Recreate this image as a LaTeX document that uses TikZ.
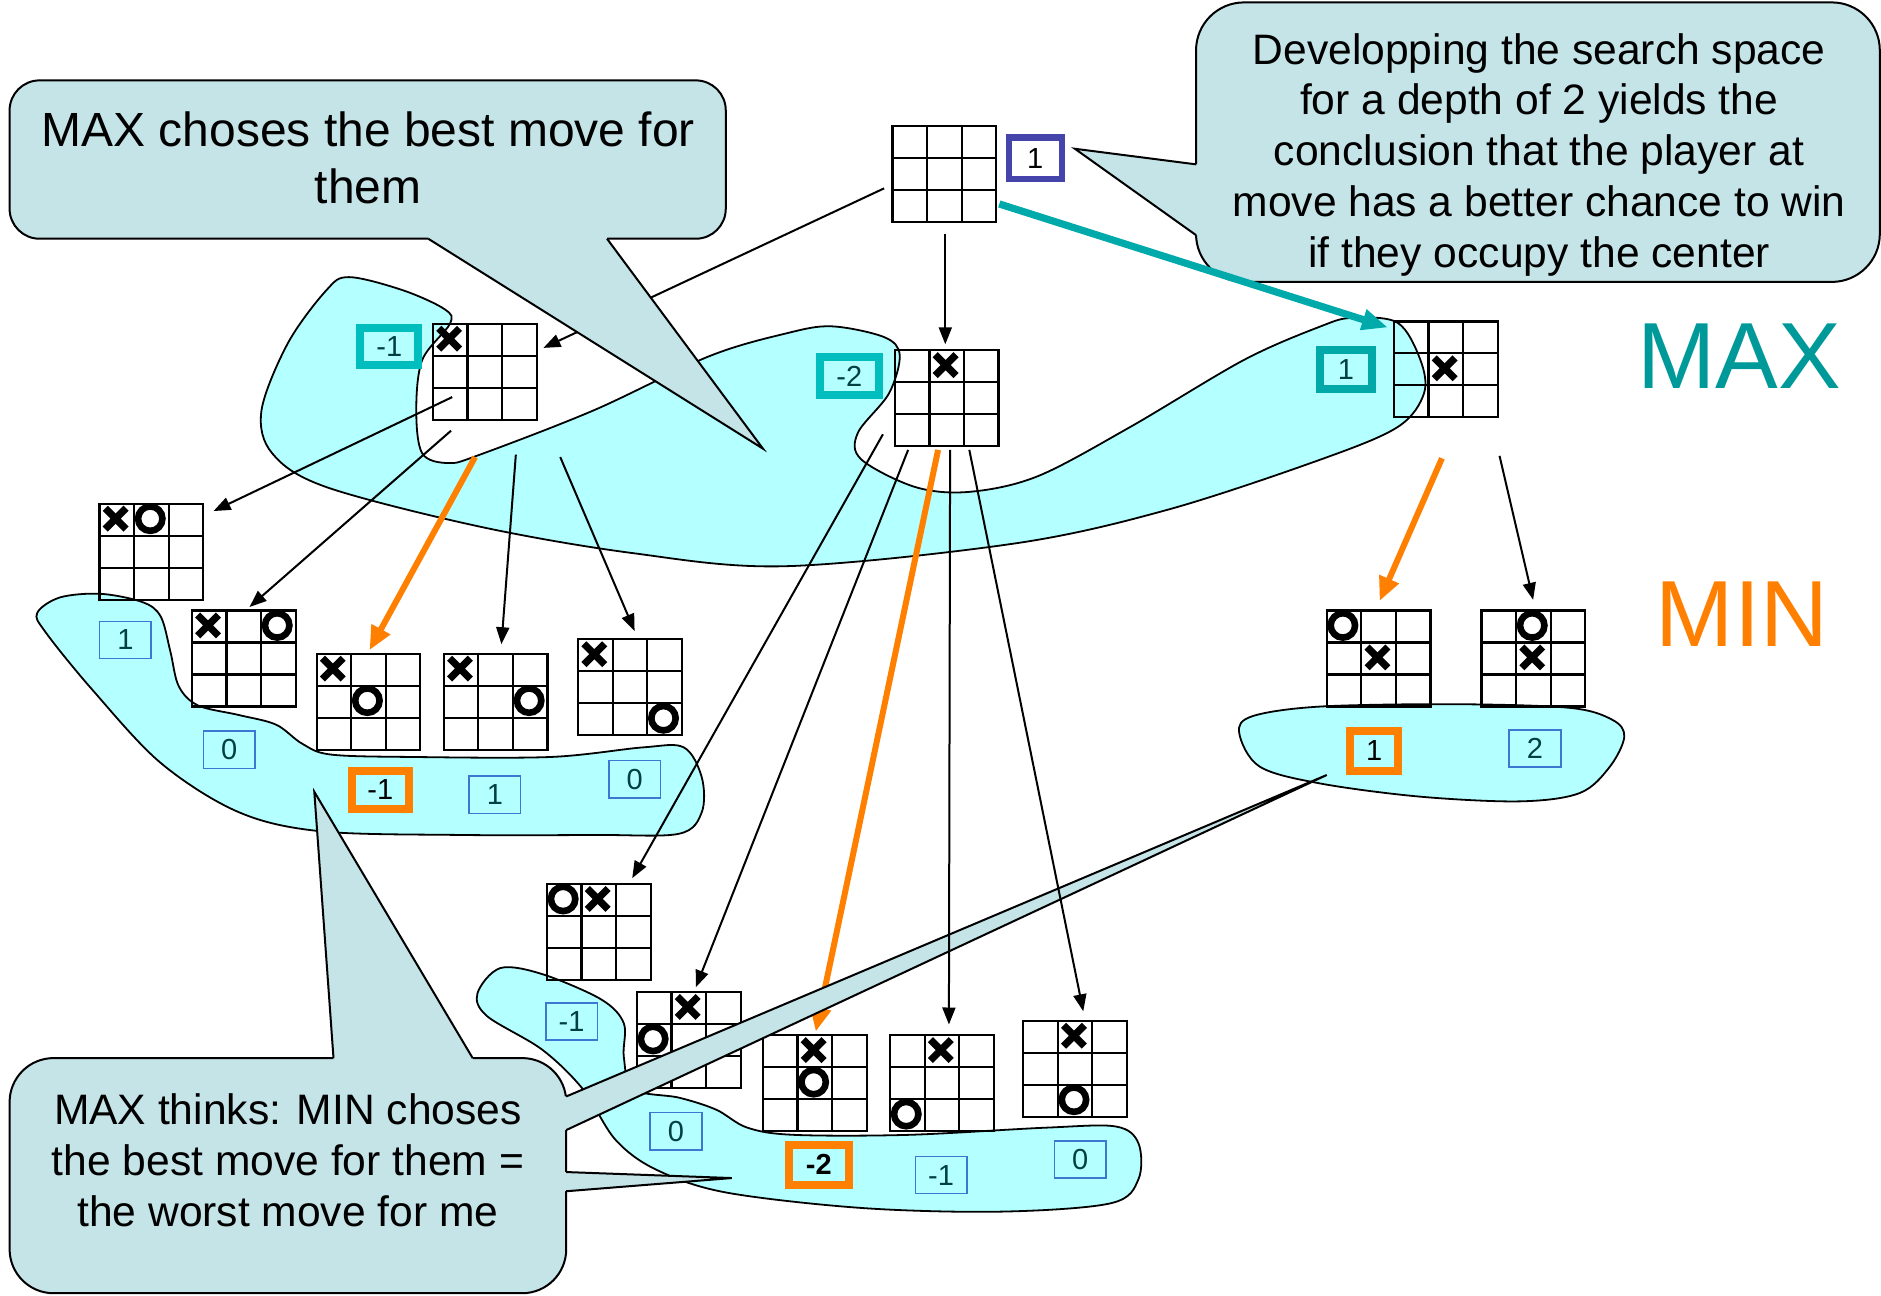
\documentclass[tikz,border=0pt]{standalone}
\usepackage{fontspec}
\setmainfont{Liberation Sans}
\usetikzlibrary{arrows.meta,calc}
\definecolor{blobc}{RGB}{180,255,255}
\definecolor{callc}{RGB}{197,228,232}
\definecolor{tealbox}{RGB}{0,190,190}
\definecolor{tealdark}{RGB}{0,168,168}
\definecolor{tealarrow}{RGB}{0,170,170}
\definecolor{maxc}{RGB}{0,153,153}
\definecolor{orng}{RGB}{255,128,0}
\definecolor{rootc}{RGB}{68,68,170}
\definecolor{thinb}{RGB}{60,120,210}
\definecolor{valtxt}{RGB}{0,64,64}
\newcommand{\myvalfont}{\fontsize{14.5}{16}\selectfont}
\newcommand{\myfA}{\fontsize{24}{28.2}\selectfont}
\newcommand{\myfB}{\fontsize{21.3}{25.4}\selectfont}
\newcommand{\myfBig}{\fontsize{47}{50}\selectfont}
\newcommand{\markX}[3]{\draw[xstroke] ($(#1.north west)+({(#3+0.5)*28.83},{(#2+0.5)*26.67})$) +(-5.2pt,-5.2pt) -- +(5.2pt,5.2pt) +(-5.2pt,5.2pt) -- +(5.2pt,-5.2pt);}
\newcommand{\markO}[3]{\draw[ostroke] ($(#1.north west)+({(#3+0.5)*28.83},{(#2+0.5)*26.67})$) circle[radius=6.1pt];}
\begin{document}
\begin{tikzpicture}[x=0.6pt,y=-0.6pt,
  blob/.style={fill=blobc, draw=black, line width=0.9pt},
  board/.style={draw, line width=1.1pt, anchor=north west, minimum width=51.9pt, minimum height=48pt, inner sep=0pt,
    path picture={
      \foreach \f in {0.3333,0.6667}{
        \draw[line width=1.1pt] ($(path picture bounding box.north west)!\f!(path picture bounding box.north east)$) -- ($(path picture bounding box.south west)!\f!(path picture bounding box.south east)$);
        \draw[line width=1.1pt] ($(path picture bounding box.north west)!\f!(path picture bounding box.south west)$) -- ($(path picture bounding box.north east)!\f!(path picture bounding box.south east)$);
      }}},
  xstroke/.style={line width=3.6pt},
  ostroke/.style={line width=3.3pt},
  thinval/.style={draw=thinb, line width=0.8pt, minimum width=25.8pt, minimum height=18.6pt, inner sep=0pt, text=valtxt, font=\myvalfont},
  bigval/.style={line width=4pt, inner sep=0pt, font=\myvalfont},
  callout/.style={fill=callc, draw=black, line width=1pt, inner sep=0pt},
  callfill/.style={fill=callc},
  callline/.style={draw=black, line width=1pt, line join=miter},
  arr/.style={draw=black, line width=1pt, -{Triangle[length=8.5pt,width=6.5pt]}},
  oarr/.style={draw=orng, line width=3pt, -{Triangle[length=12pt,width=10pt]}},
  tarr/.style={draw=tealarrow, line width=3.6pt, -{Triangle[length=13pt,width=10pt]}},
  calltext/.style={align=center, inner sep=0pt},
]
\useasboundingbox (0,0) rectangle (1568,1080);

% ---------- blobs ----------
\draw[blob] plot[smooth cycle, tension=0.55] coordinates {(291,231) (336,242) (371,258) (375,270) (352,300) (347,342) (352,378) (374,386) (400,379) (495,342) (591,297) (655,278) (693,272) (737,281) (750,296) (741,328) (715,361) (718,383) (763,406) (808,410) (865,397) (942,356) (1037,300) (1101,272) (1127,265) (1165,269) (1184,300) (1187,328) (1165,356) (1101,383) (973,425) (846,453) (654,472) (527,461) (400,439) (272,406) (227,378) (218,342) (240,286) (272,242)};
\draw[blob] plot[smooth cycle, tension=0.55] coordinates {(31,511) (50,498) (84,495) (119,502) (134,514) (142,543) (149,572) (165,588) (199,596) (230,604) (252,620) (276,629) (344,631) (459,631) (536,623) (570,623) (585,648) (585,677) (566,695) (497,696) (383,696) (268,693) (199,677) (134,636) (77,575) (38,527)};
\draw[blob] plot[smooth cycle, tension=0.55] coordinates {(398,828) (417,807) (452,812) (501,833) (520,853) (520,881) (528,908) (566,915) (597,925) (623,940) (662,946) (757,946) (872,940) (930,939) (949,953) (949,983) (926,1003) (834,1010) (719,1007) (605,994) (547,975) (513,950) (486,908) (452,875) (406,847)};
\draw[blob] plot[smooth cycle, tension=0.55] coordinates {(1033,611) (1044,597) (1100,589) (1211,587) (1308,590) (1344,600) (1354,614) (1342,639) (1317,661) (1267,668) (1183,664) (1100,653) (1050,639)};

% ---------- boards ----------
\node[board] (root) at (743,104) {};
\node[board] (mx1) at (360,269) {};
\node[board] (mx2) at (745,291) {};
\node[board] (mx3) at (1161,267) {};
\node[board] (la) at (82,419) {};
\node[board] (lb) at (159,508) {};
\node[board] (lc) at (263,544) {};
\node[board] (ld) at (369,544) {};
\node[board] (le) at (481,532) {};
\node[board] (ca) at (455,736) {};
\node[board] (cb) at (530,826) {};
\node[board] (cc) at (635,862) {};
\node[board] (cd) at (741,862) {};
\node[board] (ce) at (852,850) {};
\node[board] (ra) at (1105,508) {};
\node[board] (rb) at (1234,508) {};

\markX{mx1}{0}{0}
\markX{mx2}{0}{1}
\markX{mx3}{1}{1}
\markX{la}{0}{0}\markO{la}{0}{1}
\markX{lb}{0}{0}\markO{lb}{0}{2}
\markX{lc}{0}{0}\markO{lc}{1}{1}
\markX{ld}{0}{0}\markO{ld}{1}{2}
\markX{le}{0}{0}\markO{le}{2}{2}
\markO{ca}{0}{0}\markX{ca}{0}{1}
\markX{cb}{0}{1}\markO{cb}{1}{0}
\markX{cc}{0}{1}\markO{cc}{1}{1}
\markX{cd}{0}{1}\markO{cd}{2}{0}
\markX{ce}{0}{1}\markO{ce}{2}{1}
\markO{ra}{0}{0}\markX{ra}{1}{1}
\markO{rb}{0}{1}\markX{rb}{1}{1}

% ---------- values ----------
\node[bigval, draw=rootc, line width=3.2pt, minimum width=26.5pt, minimum height=20.8pt] (vroot) at (863,132) {1};
\node[bigval, draw=tealbox, text=valtxt, minimum width=29pt, minimum height=18.8pt] (vmx1) at (324.5,289) {-1};
\node[bigval, draw=tealbox, text=valtxt, minimum width=29.6pt, minimum height=19.4pt] (vmx2) at (708,313.5) {-2};
\node[bigval, draw=tealdark, text=valtxt, minimum width=26pt, minimum height=20pt] (vmx3) at (1122,308) {1};

\node[thinval] (vla) at (104.5,533.5) {1};
\node[thinval] (vlb) at (191,625) {0};
\node[bigval, draw=orng, minimum width=28.4pt, minimum height=19.4pt] (vlc) at (317,658.5) {-1};
\node[thinval] (vld) at (412.5,662.5) {1};
\node[thinval] (vle) at (529,649.5) {0};

\node[thinval] (vca) at (476.5,851.5) {-1};
\node[thinval] (vcb) at (563.5,943) {0};
\node[bigval, draw=orng, minimum width=30.2pt, minimum height=20pt, font=\myvalfont\bfseries] (vcc) at (682.5,971) {-2};
\node[thinval] (vcd) at (784.5,979.5) {-1};
\node[thinval] (vce) at (900.5,966.5) {0};

\node[bigval, draw=orng, minimum width=24.2pt, minimum height=20pt] (vra) at (1145.5,626) {1};
\node[thinval] (vrb) at (1279.5,624) {2};

% ---------- connector end points ----------
\coordinate (s0a) at (737,157);  \coordinate (e0a) at (453,290);
\coordinate (s0b) at (788,195);  \coordinate (e0b) at (788,287);
\coordinate (s0c) at (833,170);  \coordinate (e0c) at (1157,273);
\coordinate (s1a) at (377,331);  \coordinate (e1a) at (178,426);
\coordinate (s1b) at (376,359);  \coordinate (e1b) at (208,506);
\coordinate (s1c) at (396,381);  \coordinate (e1c) at (308,542);
\coordinate (s1d) at (430,379);  \coordinate (e1d) at (418,537);
\coordinate (s1e) at (467,381);  \coordinate (e1e) at (529,526);
\coordinate (s2a) at (736,362);  \coordinate (e2a) at (527,732);
\coordinate (s2b) at (757,375);  \coordinate (e2b) at (580,823);
\coordinate (s2c) at (782,375);  \coordinate (e2c) at (680,860);
\coordinate (s2d) at (792,375);  \coordinate (e2d) at (791,854);
\coordinate (s2e) at (808,375);  \coordinate (e2e) at (903,843);
\coordinate (s3a) at (1202,382); \coordinate (e3a) at (1150,501);
\coordinate (s3b) at (1250,380); \coordinate (e3b) at (1278,500);

% arrows below the callouts
\draw[arr] (s0a) -- (e0a);
\draw[oarr] (s1c) -- (e1c);
\draw[oarr] (s2c) -- (e2c);
\draw[oarr] (s3a) -- (e3a);

% ---------- callouts ----------
% top-left
\node[callout, rounded corners=15pt, minimum width=358.2pt, minimum height=79.2pt] (c1) at (306.5,133) {};
\fill[callfill] (357,195) -- (357,199) -- (636,374) -- (506,199) -- (506,195) -- cycle;
\draw[callline] (357,199) -- (636,374) -- (506,199);
\node[calltext, font=\myfA] (t1) at (307,131.5) {MAX choses the best move for\\them};

% top-right
\node[callout, rounded corners=24pt, minimum width=342pt, minimum height=139.8pt] (c2) at (1282,118.5) {};
\fill[callfill] (1001,137) -- (997,137) -- (896,124) -- (997,196) -- (1001,196) -- cycle;
\draw[callline] (997,137) -- (896,124) -- (997,196);
\node[calltext, font=\myfB] (t2) at (1283,129) {Developping the search space\\for a depth of 2 yields the\\conclusion that the player at\\move has a better chance to win\\if they occupy the center};

% bottom-left
\node[callout, rounded corners=22pt, minimum width=278.4pt, minimum height=117.6pt] (c3) at (240,980) {};
\fill[callfill] (278,886) -- (278,882) -- (262,660) -- (394,882) -- (394,886) -- cycle;
\draw[callline] (278,882) -- (262,660) -- (394,882);
\fill[callfill] (468,914) -- (472,914) -- (1106,646) -- (472,942) -- (468,942) -- cycle;
\draw[callline] (472,914) -- (1106,646) -- (472,942);
\fill[callfill] (468,977) -- (472,977) -- (610,982) -- (472,993) -- (468,993) -- cycle;
\draw[callline] (472,977) -- (610,982) -- (472,993);
\node[calltext, font=\myfB] (t3) at (240,967) {MAX thinks: MIN choses\\the best move for them =\\the worst move for me};

% arrows above the callouts
\draw[tarr] (s0c) -- (e0c);
\draw[arr] (s0b) -- (e0b);
\draw[arr] (s1a) -- (e1a);
\draw[arr] (s1b) -- (e1b);
\draw[arr] (s1d) -- (e1d);
\draw[arr] (s1e) -- (e1e);
\draw[arr] (s2a) -- (e2a);
\draw[arr] (s2b) -- (e2b);
\draw[arr] (s2d) -- (e2d);
\draw[arr] (s2e) -- (e2e);
\draw[arr] (s3b) -- (e3b);

% ---------- level labels ----------
\node[inner sep=0pt, text=maxc, font=\myfBig] (lmax) at (1450,297) {MAX};
\node[inner sep=0pt, text=orng, font=\myfBig] (lmin) at (1452,512) {MIN};
\end{tikzpicture}
\end{document}
